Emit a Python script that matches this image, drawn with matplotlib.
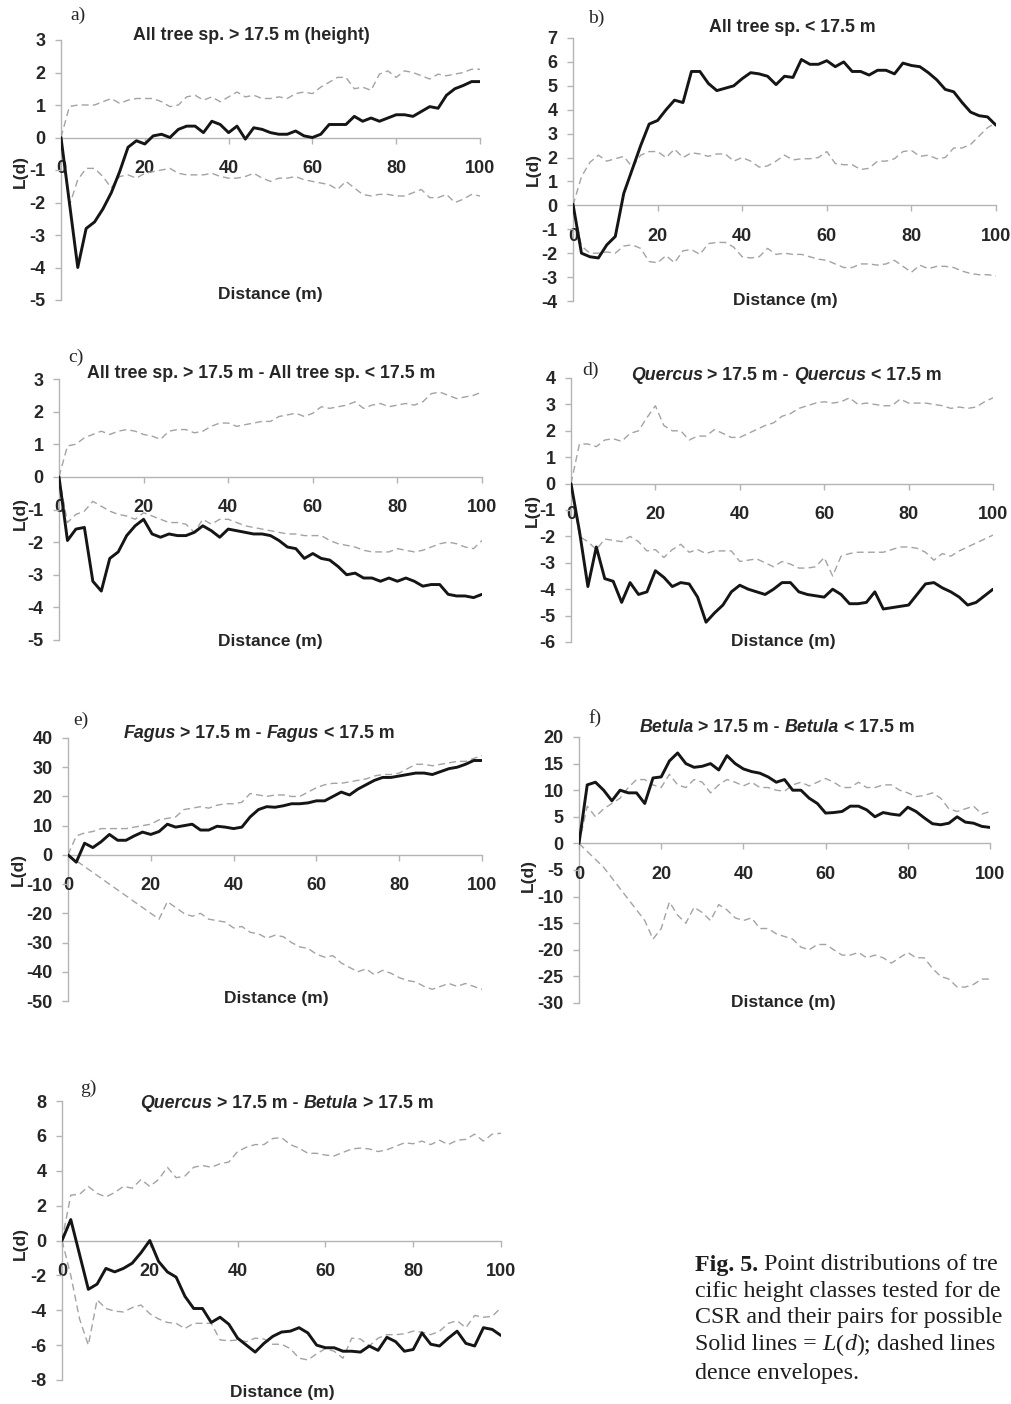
import matplotlib
matplotlib.use("Agg")
import matplotlib.pyplot as plt

# ---------------- data ----------------
DIST = list(range(0, 101, 2))

a_L = [0, -2.0, -4.0, -2.8, -2.6, -2.2, -1.7, -1.05, -0.3, -0.1, -0.2, 0.05, 0.1, 0.0, 0.25, 0.35, 0.35, 0.15, 0.5, 0.4,
       0.15, 0.35, -0.05, 0.3, 0.25, 0.15, 0.1, 0.1, 0.2, 0.05, 0.0, 0.1, 0.4, 0.4, 0.4, 0.65, 0.5, 0.6, 0.5, 0.6,
       0.7, 0.7, 0.65, 0.8, 0.95, 0.9, 1.3, 1.5, 1.6, 1.72, 1.72]
a_up = [0, 0.95, 1.0, 1.0, 1.0, 1.1, 1.2, 1.05, 1.15, 1.2, 1.2, 1.2, 1.1, 0.95, 1.0, 1.25, 1.3, 1.15, 1.25, 1.1,
        1.25, 1.4, 1.25, 1.3, 1.2, 1.2, 1.25, 1.2, 1.35, 1.4, 1.35, 1.55, 1.7, 1.85, 1.85, 1.5, 1.55, 1.45, 1.95, 2.05,
        1.85, 2.05, 2.0, 1.9, 1.8, 1.95, 1.9, 1.95, 2.0, 2.1, 2.1]
a_lo = [0, -2.1, -1.3, -0.95, -0.95, -1.2, -1.55, -1.2, -1.15, -1.25, -1.1, -1.05, -1.0, -0.95, -1.1, -1.15, -1.15,
        -1.15, -1.1, -1.2, -1.25, -1.25, -1.2, -1.1, -1.25, -1.35, -1.25, -1.25, -1.2, -1.3, -1.35, -1.4, -1.45, -1.6,
        -1.35, -1.55, -1.75, -1.8, -1.75, -1.75, -1.8, -1.8, -1.7, -1.6, -1.85, -1.85, -1.75, -2.0, -1.9, -1.75, -1.8]

b_L = [0.05, -2.0, -2.15, -2.2, -1.65, -1.3, 0.5, 1.5, 2.5, 3.4, 3.55, 4.0, 4.4, 4.3, 5.6, 5.6, 5.1, 4.8, 4.9, 5.0,
       5.3, 5.55, 5.5, 5.4, 5.05, 5.4, 5.35, 6.1, 5.9, 5.9, 6.05, 5.8, 6.0, 5.6, 5.6, 5.45, 5.65, 5.65, 5.5, 5.95,
       5.85, 5.8, 5.55, 5.25, 4.85, 4.75, 4.3, 3.9, 3.75, 3.7, 3.35]
b_up = [0, 1.2, 1.8, 2.1, 1.85, 1.95, 2.05, 1.6, 2.1, 2.25, 2.25, 2.0, 2.35, 2.0, 2.2, 2.15, 2.05, 2.15, 2.15, 1.85,
        2.0, 1.85, 1.6, 1.65, 1.85, 2.1, 1.9, 1.95, 1.95, 2.0, 2.25, 1.75, 1.7, 1.7, 1.5, 1.55, 1.85, 1.85, 1.95, 2.25,
        2.3, 2.05, 2.1, 1.95, 2.0, 2.4, 2.4, 2.55, 2.9, 3.25, 3.45]
b_lo = [0, -1.7, -2.0, -2.0, -1.95, -2.0, -1.7, -1.65, -1.8, -2.35, -2.4, -2.1, -2.4, -1.9, -1.85, -2.05, -1.6,
        -1.55, -1.55, -1.75, -2.15, -2.2, -2.15, -1.8, -2.05, -2.0, -2.05, -2.05, -2.15, -2.25, -2.3, -2.45, -2.6,
        -2.6, -2.45, -2.45, -2.5, -2.45, -2.3, -2.55, -2.8, -2.5, -2.65, -2.55, -2.55, -2.6, -2.75, -2.85, -2.9,
        -2.9, -2.95]

c_L = [0, -1.95, -1.6, -1.55, -3.2, -3.5, -2.5, -2.3, -1.8, -1.5, -1.3, -1.75, -1.85, -1.75, -1.8, -1.8, -1.7, -1.5,
       -1.65, -1.85, -1.6, -1.65, -1.7, -1.75, -1.75, -1.8, -1.95, -2.15, -2.2, -2.5, -2.35, -2.5, -2.55, -2.75, -3.0,
       -2.95, -3.1, -3.1, -3.2, -3.1, -3.2, -3.1, -3.2, -3.35, -3.3, -3.3, -3.6, -3.65, -3.65, -3.7, -3.6]
c_up = [0, 0.95, 1.0, 1.2, 1.3, 1.4, 1.3, 1.4, 1.45, 1.4, 1.3, 1.25, 1.15, 1.4, 1.45, 1.45, 1.35, 1.4, 1.55, 1.65,
        1.65, 1.55, 1.6, 1.65, 1.7, 1.7, 1.85, 1.9, 1.95, 1.85, 1.95, 2.15, 2.1, 2.15, 2.2, 2.3, 2.1, 2.2, 2.25, 2.15,
        2.2, 2.25, 2.2, 2.3, 2.55, 2.6, 2.5, 2.4, 2.45, 2.5, 2.6]
c_lo = [0, -1.4, -1.15, -1.05, -0.75, -0.9, -1.05, -1.15, -1.2, -1.3, -1.1, -1.2, -1.3, -1.4, -1.4, -1.45, -1.7,
        -1.3, -1.45, -1.3, -1.3, -1.4, -1.5, -1.55, -1.6, -1.65, -1.7, -1.75, -1.75, -1.8, -1.8, -1.8, -1.95, -2.05,
        -2.1, -2.15, -2.25, -2.3, -2.3, -2.3, -2.2, -2.25, -2.3, -2.25, -2.15, -2.05, -2.0, -2.05, -2.15, -2.2, -1.95]

d_L = [0, -1.8, -3.9, -2.4, -3.6, -3.7, -4.5, -3.75, -4.2, -4.1, -3.3, -3.55, -3.9, -3.75, -3.8, -4.3, -5.25, -4.9,
       -4.6, -4.1, -3.85, -4.0, -4.1, -4.2, -4.0, -3.75, -3.75, -4.1, -4.2, -4.25, -4.3, -4.0, -4.2, -4.55, -4.55,
       -4.5, -4.1, -4.75, -4.7, -4.65, -4.6, -4.2, -3.8, -3.75, -3.95, -4.1, -4.3, -4.6, -4.5, -4.25, -4.0]
d_up = [0, 1.5, 1.5, 1.4, 1.65, 1.7, 1.6, 1.9, 2.0, 2.5, 2.95, 2.2, 2.0, 2.0, 1.65, 1.8, 1.8, 2.05, 1.9, 1.75,
        1.75, 1.9, 2.05, 2.2, 2.3, 2.55, 2.65, 2.85, 2.95, 3.05, 3.1, 3.05, 3.1, 3.25, 3.0, 3.05, 3.0, 2.95, 2.95, 3.2,
        3.05, 3.05, 3.05, 3.0, 2.95, 2.85, 2.9, 2.85, 2.9, 3.1, 3.25]
d_lo = [0, -2.0, -2.2, -2.5, -2.1, -2.15, -2.2, -2.0, -2.2, -2.55, -2.5, -2.8, -2.5, -2.3, -2.6, -2.5, -2.65, -2.55,
        -2.55, -2.55, -2.95, -2.9, -2.85, -3.0, -3.15, -2.95, -3.05, -3.2, -3.2, -3.15, -2.8, -3.5, -2.75, -2.65,
        -2.6, -2.6, -2.6, -2.6, -2.5, -2.4, -2.4, -2.45, -2.6, -2.9, -2.65, -2.75, -2.55, -2.4, -2.25, -2.1, -1.95]

e_L = [0, -2.5, 4.0, 2.5, 4.5, 7.0, 5.0, 5.0, 6.5, 7.8, 7.0, 8.0, 10.5, 9.5, 10.0, 10.5, 8.5, 8.5, 9.8, 9.5,
       9.0, 9.5, 13.0, 15.5, 16.5, 16.3, 16.8, 17.5, 17.5, 17.8, 18.5, 18.5, 20.0, 21.5, 20.5, 22.5, 24.0, 25.5,
       26.5, 26.5, 27.0, 27.5, 28.0, 28.0, 27.5, 28.5, 29.5, 30.0, 31.0, 32.3, 32.3]
e_up = [0, 6.5, 7.5, 8.0, 9.0, 9.0, 9.0, 9.0, 9.5, 10.0, 10.5, 12.0, 12.5, 13.0, 15.5, 16.0, 16.5, 16.0, 17.0, 17.5,
        17.5, 18.0, 21.0, 20.5, 20.0, 20.5, 20.5, 20.0, 20.0, 21.5, 23.0, 24.0, 24.5, 24.5, 25.0, 25.5, 26.0, 27.0,
        27.5, 27.5, 28.0, 29.5, 31.0, 31.0, 30.5, 31.0, 31.5, 32.0, 32.0, 33.0, 34.0]
e_lo = [0, -2.0, -4.0, -6.0, -8.0, -10.0, -12.0, -14.0, -16.0, -18.0, -20.0, -22.0, -16.0, -18.0, -20.0, -21.0,
        -20.0, -22.0, -22.5, -23.0, -25.0, -24.5, -26.5, -27.0, -28.5, -27.5, -28.0, -30.0, -31.5, -32.0, -34.0,
        -35.0, -34.5, -37.0, -38.5, -40.0, -39.0, -41.0, -39.5, -40.5, -42.0, -43.0, -43.5, -45.0, -46.0, -45.0,
        -44.0, -45.0, -44.0, -45.0, -46.0]

f_L = [0, 11.0, 11.5, 10.0, 8.0, 10.0, 9.5, 9.5, 7.5, 12.3, 12.5, 15.5, 17.0, 15.0, 14.3, 14.5, 15.0, 13.8, 16.5,
       15.0, 14.0, 13.5, 13.2, 12.5, 11.5, 12.0, 10.0, 10.0, 8.5, 7.5, 5.7, 5.8, 6.0, 7.0, 7.0, 6.3, 5.0, 5.8, 5.5,
       5.3, 6.8, 6.0, 4.8, 3.7, 3.5, 3.8, 5.0, 4.0, 3.8, 3.2, 3.0]
f_up = [0, 7.0, 5.0, 6.5, 7.5, 8.5, 10.5, 12.0, 12.0, 11.0, 10.5, 13.0, 11.0, 10.5, 12.0, 11.5, 9.5, 11.0, 12.0,
        11.5, 10.8, 11.5, 10.5, 10.5, 10.0, 9.8, 11.0, 11.5, 10.8, 11.5, 12.2, 11.5, 10.5, 10.5, 11.5, 10.5, 10.5,
        11.0, 11.0, 10.0, 9.5, 8.8, 9.0, 9.5, 8.5, 6.5, 6.0, 6.5, 7.0, 5.5, 6.0]
f_lo = [0, -1.5, -3.0, -4.5, -6.5, -8.5, -10.5, -12.5, -14.5, -18.0, -16.0, -11.0, -13.5, -15.0, -12.0, -13.0,
        -14.5, -11.5, -12.5, -14.0, -14.5, -14.0, -16.0, -16.0, -17.0, -17.5, -18.0, -19.5, -20.0, -19.0, -19.0,
        -20.0, -21.0, -21.0, -20.5, -21.5, -21.0, -21.5, -22.5, -21.5, -20.5, -21.5, -21.5, -23.5, -25.0, -25.5,
        -27.0, -27.0, -26.5, -25.5, -25.5]

g_L = [0, 1.2, -0.8, -2.8, -2.5, -1.6, -1.8, -1.6, -1.3, -0.7, 0.0, -1.2, -1.8, -2.1, -3.2, -3.9, -3.9, -4.7, -4.4,
       -4.8, -5.6, -6.0, -6.4, -5.9, -5.5, -5.25, -5.2, -5.0, -5.3, -6.0, -6.15, -6.15, -6.35, -6.35, -6.4, -6.05,
       -6.3, -5.55, -5.8, -6.35, -6.25, -5.3, -5.95, -6.05, -5.6, -5.2, -5.9, -6.05, -5.0, -5.1, -5.45]
g_up = [0, 2.6, 2.65, 3.1, 2.7, 2.5, 2.75, 3.1, 3.0, 3.5, 3.1, 3.5, 4.2, 3.6, 3.7, 4.2, 4.3, 4.2, 4.4, 4.5, 5.1,
        5.35, 5.5, 5.5, 5.85, 5.9, 5.5, 5.3, 5.0, 5.0, 4.9, 4.85, 5.05, 5.25, 5.3, 5.25, 5.1, 5.2, 5.4, 5.6, 5.55,
        5.7, 5.5, 5.75, 5.5, 5.75, 5.8, 6.1, 5.7, 6.1, 6.15]
g_lo = [0, -2.0, -4.5, -6.0, -3.4, -3.9, -4.05, -4.1, -3.85, -3.7, -4.2, -4.5, -4.7, -4.75, -5.05, -4.75, -4.75,
        -4.75, -5.7, -5.75, -5.7, -5.8, -5.6, -5.65, -5.95, -5.95, -6.2, -6.75, -6.85, -6.5, -6.2, -6.35, -6.75,
        -5.6, -5.65, -6.05, -5.6, -5.4, -5.4, -5.35, -5.2, -5.25, -5.4, -5.2, -4.75, -4.6, -5.0, -4.3, -4.4, -4.35,
        -3.85]

X_TICKS = [0, 20, 40, 60, 80, 100]
Y_TICKS = {
    "a": [-5, -4, -3, -2, -1, 0, 1, 2, 3],
    "b": [-4, -3, -2, -1, 0, 1, 2, 3, 4, 5, 6, 7],
    "c": [-5, -4, -3, -2, -1, 0, 1, 2, 3],
    "d": [-6, -5, -4, -3, -2, -1, 0, 1, 2, 3, 4],
    "e": [-50, -40, -30, -20, -10, 0, 10, 20, 30, 40],
    "f": [-30, -25, -20, -15, -10, -5, 0, 5, 10, 15, 20],
    "g": [-8, -6, -4, -2, 0, 2, 4, 6, 8],
}
TITLES = {
    "a": [("All tree sp. > 17.5 m (height)", "normal")],
    "b": [("All tree sp. < 17.5 m", "normal")],
    "c": [("All tree sp. > 17.5 m - All tree sp. < 17.5 m", "normal")],
    "d": [("Quercus", "italic"), (" > 17.5 m - ", "normal"), ("Quercus", "italic"), (" < 17.5 m", "normal")],
    "e": [("Fagus", "italic"), (" > 17.5 m - ", "normal"), ("Fagus", "italic"), (" < 17.5 m", "normal")],
    "f": [("Betula", "italic"), (" > 17.5 m - ", "normal"), ("Betula", "italic"), (" < 17.5 m", "normal")],
    "g": [("Quercus", "italic"), (" > 17.5 m - ", "normal"), ("Betula", "italic"), (" > 17.5 m", "normal")],
}
SERIES = {
    "a": (a_L, a_up, a_lo), "b": (b_L, b_up, b_lo), "c": (c_L, c_up, c_lo), "d": (d_L, d_up, d_lo),
    "e": (e_L, e_up, e_lo), "f": (f_L, f_up, f_lo), "g": (g_L, g_up, g_lo),
}
X_LABEL = "Distance (m)"
Y_LABEL = "L(d)"

# caption (as visible in the cropped reference)
CAPTION = [
    [("Fig. 5.", "normal", "bold"), (" Point distributions of tre", "normal", "normal")],
    [("cific height classes tested for de", "normal", "normal")],
    [("CSR and their pairs for possible", "normal", "normal")],
    [("Solid lines = ", "normal", "normal"), ("L", "italic", "normal"), ("(", "normal", "normal"),
     ("d", "italic", "normal"), (");", "normal", "normal"), (" dashed lines", "normal", "normal")],
    [("dence envelopes.", "normal", "normal")],
]

# ---------------- layout (pixels) ----------------
W, H = 1012, 1404
LAYOUT = {
    "a": dict(ax=(61, 480, 40, 300), let=(70, 15), tit=(251, 35), xl=(270, 295), yl=(20, 172)),
    "b": dict(ax=(573, 996, 38, 301), let=(588, 18), tit=(792, 27), xl=(785, 300), yl=(533, 170)),
    "c": dict(ax=(59, 482, 379, 640), let=(68, 357), tit=(261, 373), xl=(270, 642), yl=(20, 513)),
    "d": dict(ax=(571, 993, 378, 642), let=(582, 370), tit=(786, 375), xl=(783, 642), yl=(532, 510)),
    "e": dict(ax=(68, 482, 738, 1001), let=(73, 720), tit=(259, 733), xl=(276, 998), yl=(18, 870)),
    "f": dict(ax=(579, 990, 737, 1003), let=(588, 718), tit=(777, 727), xl=(783, 1002), yl=(528, 875)),
    "g": dict(ax=(62, 501, 1101, 1380), let=(80, 1088), tit=(287, 1103), xl=(282, 1392), yl=(20, 1243)),
}
CAP_X = 695
CAP_Y = [1265, 1292, 1318, 1345, 1373]

SANS = "Liberation Sans"
SERIF = "Liberation Serif"
AXCOL = "#b4b4b4"
TXTCOL = "#262626"

fig = plt.figure(figsize=(W / 100, H / 100), dpi=100)
renderer = fig.canvas.get_renderer()


def fx(x):
    return x / W


def fy(y):
    return 1 - y / H


def measure(s, **kw):
    t = fig.text(0, 0, s, **kw)
    w = t.get_window_extent(renderer).width
    t.remove()
    return w


def rich(x, y, parts, size, family, weight_default="bold", ha="center", color=TXTCOL):
    items = []
    total = 0.0
    for p in parts:
        s, style = p[0], p[1]
        weight = p[2] if len(p) > 2 else weight_default
        kw = dict(fontsize=size, family=family, style=style, weight=weight)
        sp = measure("a a", **kw) - measure("aa", **kw)
        core = s.strip(" ")
        lead = len(s) - len(s.lstrip(" "))
        trail = len(s) - len(s.rstrip(" "))
        wc = measure(core, **kw) if core else 0.0
        items.append((core, kw, lead * sp, wc, trail * sp))
        total += lead * sp + wc + trail * sp
    cur = x - total / 2 if ha == "center" else x
    for core, kw, lw, wc, tw in items:
        cur += lw
        if core:
            fig.text(fx(cur), fy(y), core, ha="left", va="center", color=color, **kw)
        cur += wc + tw


for key in ["a", "b", "c", "d", "e", "f", "g"]:
    lay = LAYOUT[key]
    x0, x1, yt, yb = lay["ax"]
    ax = fig.add_axes([fx(x0), fy(yb), (x1 - x0) / W, (yb - yt) / H])
    L, up, lo = SERIES[key]
    yt_list = Y_TICKS[key]
    ax.plot(DIST, up, color="#a3a3a3", lw=1.0, dashes=(5, 3), zorder=2)
    ax.plot(DIST, lo, color="#a3a3a3", lw=1.0, dashes=(5, 3), zorder=2)
    ax.plot(DIST, L, color="#151515", lw=2.1, solid_joinstyle="round", solid_capstyle="round", zorder=3)
    ax.set_xlim(0, 100)
    ax.set_ylim(yt_list[0], yt_list[-1])
    ax.set_xticks(X_TICKS)
    ax.set_yticks(yt_list)
    ax.set_xticklabels([str(v) for v in X_TICKS])
    ax.set_yticklabels([str(v) for v in yt_list])
    for s in ["top", "right"]:
        ax.spines[s].set_visible(False)
    ax.spines["bottom"].set_position(("data", 0))
    for s in ["left", "bottom"]:
        ax.spines[s].set_color(AXCOL)
        ax.spines[s].set_linewidth(1.0)
        ax.spines[s].set_zorder(1)
    ax.patch.set_visible(False)
    ax.tick_params(axis="y", direction="out", length=4, width=1, color=AXCOL, pad=7,
                   labelsize=13, labelcolor=TXTCOL)
    ax.tick_params(axis="x", direction="out", length=4, width=1, color=AXCOL, pad=12,
                   labelsize=13, labelcolor=TXTCOL)
    for lab in ax.get_xticklabels() + ax.get_yticklabels():
        lab.set_fontfamily(SANS)
        lab.set_fontweight("bold")
    lx, ly = lay["let"]
    fig.text(fx(lx), fy(ly), key + ")", family=SERIF, fontsize=14, ha="left", va="center", color=TXTCOL)
    tx, ty = lay["tit"]
    rich(tx, ty, TITLES[key], 12.8, SANS)
    xx, xy = lay["xl"]
    fig.text(fx(xx), fy(xy), X_LABEL, family=SANS, weight="bold", fontsize=12.5, ha="center", va="center",
             color=TXTCOL)
    yx, yy = lay["yl"]
    fig.text(fx(yx), fy(yy), Y_LABEL, family=SANS, weight="bold", fontsize=12.5, ha="center", va="center",
             rotation=90, color=TXTCOL)

for line, cy in zip(CAPTION, CAP_Y):
    rich(CAP_X, cy, line, 17.3, SERIF, ha="left", color="#1e1e1e")

fig.savefig("out.png", dpi=100, facecolor="white")
